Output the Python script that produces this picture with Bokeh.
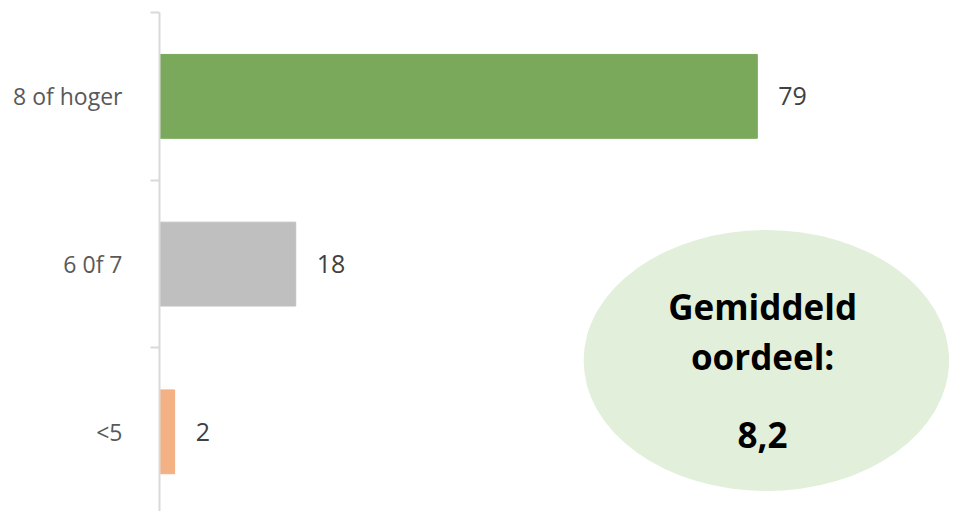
from bokeh.plotting import figure
from bokeh.models import Range1d, FixedTicker, ColumnDataSource
from bokeh.core.properties import value
from bokeh.embed import file_html
from bokeh.resources import INLINE

categories = ["8 of hoger", "6 0f 7", "<5"]
values = [79, 18, 2]
colors = ["#7AA95C", "#BFBFBF", "#F4B183"]
avg_lines = ["Gemiddeld", "oordeel:", "", "8,2"]

pos = [i + 0.5 for i in range(len(categories))]
src = ColumnDataSource(dict(y=pos, v=values, c=colors, lab=[str(v) for v in values]))

p = figure(width=949, height=511, output_backend="svg", toolbar_location=None,
           x_range=Range1d(0, 104.4), y_range=Range1d(2.975, 0),
           min_border_left=159, min_border_right=0, min_border_top=12, min_border_bottom=0)
p.outline_line_color = None
p.grid.visible = False
p.xaxis.visible = False
p.background_fill_color = "white"
p.border_fill_color = "white"

p.hbar(y="y", right="v", left=0, height=0.5, color="c", source=src)
p.text(x="v", y="y", text="lab", source=src, x_offset=21, text_baseline="middle",
       text_align="left", text_font=value("Open Sans"), text_font_size="25px", text_color="#404040")

# ellipse annotation
p.ellipse(x=[80.2], y=[2.075], width=[48.3], height=[1.556],
          fill_color="#E2EFDA", line_color=None)
ys = [1.75, 2.05, 2.27, 2.52]
p.text(x=[79.7] * 4, y=ys, text=avg_lines, text_align="center", text_baseline="middle",
       text_font=value("Open Sans"), text_font_style="bold", text_font_size="35px", text_color="#000000")

ax = p.yaxis[0]
ax.ticker = FixedTicker(ticks=pos, minor_ticks=[0, 1, 2, 3])
ax.major_label_overrides = {pp: c for pp, c in zip(pos, categories)}
ax.major_tick_line_color = None
ax.major_tick_out = 0
ax.major_tick_in = 0
ax.minor_tick_out = 9
ax.minor_tick_in = 0
ax.minor_tick_line_color = "#D9D9D9"
ax.minor_tick_line_width = 2
ax.axis_line_color = "#D9D9D9"
ax.axis_line_width = 2
ax.major_label_standoff = 28
ax.major_label_text_font = "Open Sans"
ax.major_label_text_font_size = "23px"
ax.major_label_text_color = "#595959"

open("out.html", "w").write(file_html(p, INLINE))
